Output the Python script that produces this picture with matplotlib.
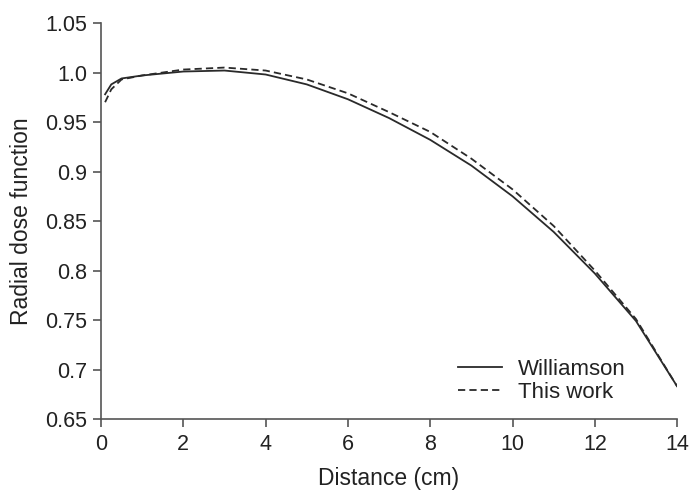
import matplotlib.pyplot as plt

plt.rcParams['font.family'] = ['Liberation Sans', 'DejaVu Sans']

# distance (cm)
dist = [0.1, 0.25, 0.5, 1, 2, 3, 4, 5, 6, 7, 8, 9, 10, 11, 12, 13, 14]
williamson = [0.978, 0.988, 0.994, 0.997, 1.001, 1.002, 0.998, 0.988, 0.973, 0.954,
              0.932, 0.906, 0.875, 0.839, 0.797, 0.749, 0.683]
this_work = [0.970, 0.983, 0.993, 0.997, 1.003, 1.005, 1.002, 0.993, 0.979, 0.960,
             0.940, 0.913, 0.882, 0.845, 0.800, 0.751, 0.683]

xticks = [0, 2, 4, 6, 8, 10, 12, 14]
yticks = [0.65, 0.7, 0.75, 0.8, 0.85, 0.9, 0.95, 1.0, 1.05]
ylabels = ['0.65', '0.7', '0.75', '0.8', '0.85', '0.9', '0.95', '1.0', '1.05']

fig = plt.figure(figsize=(6.95, 4.95), dpi=100)
ax = fig.add_axes([0.1453, 0.1535, 0.829, 0.8])

ax.plot(dist, williamson, color='#2a2a2a', lw=1.3, ls='-', label='Williamson')
ax.plot(dist, this_work, color='#2a2a2a', lw=1.3, ls=(0, (4, 2.3)), label='This work')

ax.set_xlim(0, 14)
ax.set_ylim(0.65, 1.05)
ax.set_xticks(xticks)
ax.set_yticks(yticks)
ax.set_yticklabels(ylabels)

for s in ['top', 'right']:
    ax.spines[s].set_visible(False)
for s in ['left', 'bottom']:
    ax.spines[s].set_color('#555555')
    ax.spines[s].set_linewidth(1.2)

ax.tick_params(direction='out', length=5.5, width=1.2, colors='#555555',
               labelcolor='#222222', labelsize=15.5)
ax.tick_params(axis='x', pad=5)
ax.tick_params(axis='y', pad=4.5)

ax.set_xlabel('Distance (cm)', fontsize=16.5, color='#222222', labelpad=9)
ax.set_ylabel('Radial dose function', fontsize=16.5, color='#222222', labelpad=9)

ax.legend(loc='lower left', bbox_to_anchor=(0.60, 0.012), frameon=False,
          borderpad=0, fontsize=16, handlelength=2.0, handletextpad=0.7,
          labelspacing=0.1, labelcolor='#222222')

fig.savefig('out.png', dpi=100)
